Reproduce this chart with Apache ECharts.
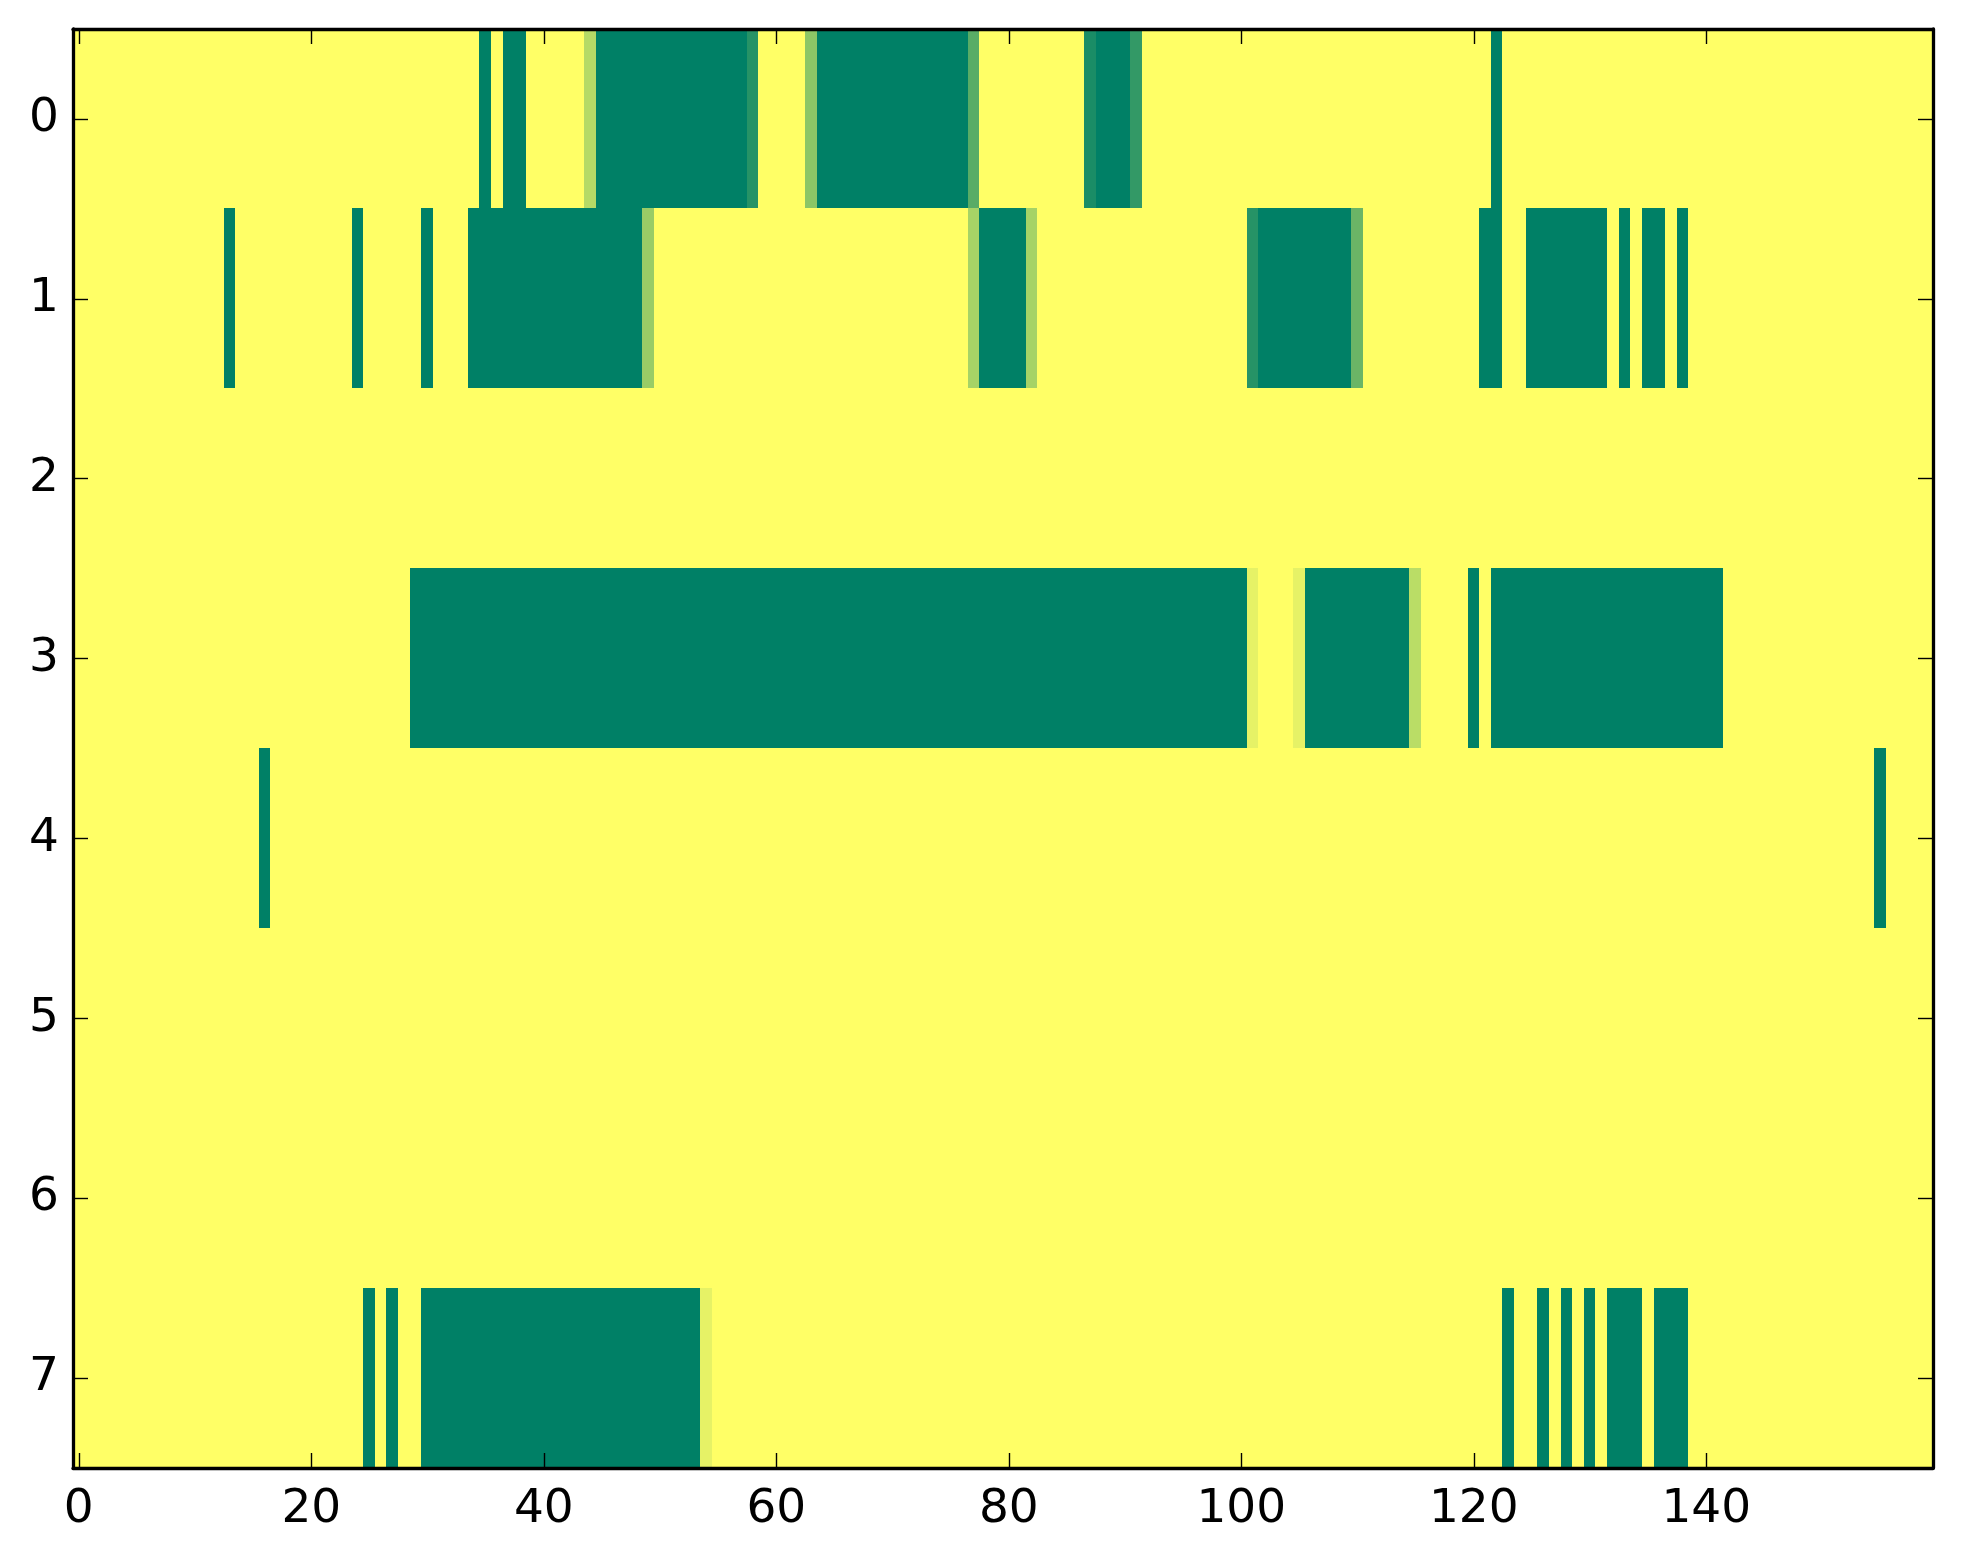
<!DOCTYPE html>
<html><head><meta charset="utf-8">
<script src="https://cdn.jsdelivr.net/npm/echarts@6/dist/echarts.min.js"></script>
<style>html,body{margin:0;padding:0;background:#fff}#c{width:1963px;height:1564px}</style>
</head><body><div id="c"></div>
<script>
const rowLabels = ['0','1','2','3','4','5','6','7'];
const columnLabels = [];
for (let i = 0; i < 160; i++) columnLabels.push(String(i));

const row0 = [
0,0,0,0,0,0,0,0,0,0,0,0,0,0,0,0,0,0,0,0,
0,0,0,0,0,0,0,0,0,0,0,0,0,0,0,1,0,1,1,0,
0,0,0,0,.29,1,1,1,1,1,1,1,1,1,1,1,1,1,.85,0,
0,0,0,.45,1,1,1,1,1,1,1,1,1,1,1,1,1,.65,0,0,
0,0,0,0,0,0,0,.9,1,1,1,.8,0,0,0,0,0,0,0,0,
0,0,0,0,0,0,0,0,0,0,0,0,0,0,0,0,0,0,0,0,
0,0,1,0,0,0,0,0,0,0,0,0,0,0,0,0,0,0,0,0,
0,0,0,0,0,0,0,0,0,0,0,0,0,0,0,0,0,0,0,0];
const row1 = [
0,0,0,0,0,0,0,0,0,0,0,0,0,1,0,0,0,0,0,0,
0,0,0,0,1,0,0,0,0,0,1,0,0,0,1,1,1,1,1,1,
1,1,1,1,1,1,1,1,1,.4,0,0,0,0,0,0,0,0,0,0,
0,0,0,0,0,0,0,0,0,0,0,0,0,0,0,0,0,.35,1,1,
1,1,.35,0,0,0,0,0,0,0,0,0,0,0,0,0,0,0,0,0,
0,.85,1,1,1,1,1,1,1,1,.58,0,0,0,0,0,0,0,0,0,
0,1,1,0,0,1,1,1,1,1,1,1,0,1,0,1,1,0,1,0,
0,0,0,0,0,0,0,0,0,0,0,0,0,0,0,0,0,0,0,0];
const row2 = [
0,0,0,0,0,0,0,0,0,0,0,0,0,0,0,0,0,0,0,0,
0,0,0,0,0,0,0,0,0,0,0,0,0,0,0,0,0,0,0,0,
0,0,0,0,0,0,0,0,0,0,0,0,0,0,0,0,0,0,0,0,
0,0,0,0,0,0,0,0,0,0,0,0,0,0,0,0,0,0,0,0,
0,0,0,0,0,0,0,0,0,0,0,0,0,0,0,0,0,0,0,0,
0,0,0,0,0,0,0,0,0,0,0,0,0,0,0,0,0,0,0,0,
0,0,0,0,0,0,0,0,0,0,0,0,0,0,0,0,0,0,0,0,
0,0,0,0,0,0,0,0,0,0,0,0,0,0,0,0,0,0,0,0];
const row3 = [
0,0,0,0,0,0,0,0,0,0,0,0,0,0,0,0,0,0,0,0,
0,0,0,0,0,0,0,0,0,1,1,1,1,1,1,1,1,1,1,1,
1,1,1,1,1,1,1,1,1,1,1,1,1,1,1,1,1,1,1,1,
1,1,1,1,1,1,1,1,1,1,1,1,1,1,1,1,1,1,1,1,
1,1,1,1,1,1,1,1,1,1,1,1,1,1,1,1,1,1,1,1,
1,.1,0,0,0,.1,1,1,1,1,1,1,1,1,1,.27,0,0,0,0,
1,0,1,1,1,1,1,1,1,1,1,1,1,1,1,1,1,1,1,1,
1,1,0,0,0,0,0,0,0,0,0,0,0,0,0,0,0,0,0,0];
const row4 = [
0,0,0,0,0,0,0,0,0,0,0,0,0,0,0,0,1,0,0,0,
0,0,0,0,0,0,0,0,0,0,0,0,0,0,0,0,0,0,0,0,
0,0,0,0,0,0,0,0,0,0,0,0,0,0,0,0,0,0,0,0,
0,0,0,0,0,0,0,0,0,0,0,0,0,0,0,0,0,0,0,0,
0,0,0,0,0,0,0,0,0,0,0,0,0,0,0,0,0,0,0,0,
0,0,0,0,0,0,0,0,0,0,0,0,0,0,0,0,0,0,0,0,
0,0,0,0,0,0,0,0,0,0,0,0,0,0,0,0,0,0,0,0,
0,0,0,0,0,0,0,0,0,0,0,0,0,0,0,1,0,0,0,0];
const row5 = [
0,0,0,0,0,0,0,0,0,0,0,0,0,0,0,0,0,0,0,0,
0,0,0,0,0,0,0,0,0,0,0,0,0,0,0,0,0,0,0,0,
0,0,0,0,0,0,0,0,0,0,0,0,0,0,0,0,0,0,0,0,
0,0,0,0,0,0,0,0,0,0,0,0,0,0,0,0,0,0,0,0,
0,0,0,0,0,0,0,0,0,0,0,0,0,0,0,0,0,0,0,0,
0,0,0,0,0,0,0,0,0,0,0,0,0,0,0,0,0,0,0,0,
0,0,0,0,0,0,0,0,0,0,0,0,0,0,0,0,0,0,0,0,
0,0,0,0,0,0,0,0,0,0,0,0,0,0,0,0,0,0,0,0];
const row6 = [
0,0,0,0,0,0,0,0,0,0,0,0,0,0,0,0,0,0,0,0,
0,0,0,0,0,0,0,0,0,0,0,0,0,0,0,0,0,0,0,0,
0,0,0,0,0,0,0,0,0,0,0,0,0,0,0,0,0,0,0,0,
0,0,0,0,0,0,0,0,0,0,0,0,0,0,0,0,0,0,0,0,
0,0,0,0,0,0,0,0,0,0,0,0,0,0,0,0,0,0,0,0,
0,0,0,0,0,0,0,0,0,0,0,0,0,0,0,0,0,0,0,0,
0,0,0,0,0,0,0,0,0,0,0,0,0,0,0,0,0,0,0,0,
0,0,0,0,0,0,0,0,0,0,0,0,0,0,0,0,0,0,0,0];
const row7 = [
0,0,0,0,0,0,0,0,0,0,0,0,0,0,0,0,0,0,0,0,
0,0,0,0,0,1,0,1,0,0,1,1,1,1,1,1,1,1,1,1,
1,1,1,1,1,1,1,1,1,1,1,1,1,1,.1,0,0,0,0,0,
0,0,0,0,0,0,0,0,0,0,0,0,0,0,0,0,0,0,0,0,
0,0,0,0,0,0,0,0,0,0,0,0,0,0,0,0,0,0,0,0,
0,0,0,0,0,0,0,0,0,0,0,0,0,0,0,0,0,0,0,0,
0,0,0,1,0,0,1,0,1,0,1,0,1,1,1,0,1,1,1,0,
0,0,0,0,0,0,0,0,0,0,0,0,0,0,0,0,0,0,0,0];

const rows = [row0,row1,row2,row3,row4,row5,row6,row7];
const cells = [];
rows.forEach((r, ri) => r.forEach((v, ci) => cells.push([ci, ri, v])));

const every20 = (i) => i % 20 === 0;
const font = 'DejaVu Sans';
const axisLine = {show: true, onZero: false, lineStyle: {color: '#000', width: 3.3}};
const tick = {show: true, inside: true, length: 15, alignWithLabel: true, lineStyle: {color: '#000', width: 1.4}};

const chart = echarts.init(document.getElementById('c'));
chart.setOption({
  animation: false,
  backgroundColor: '#fff',
  grid: {left: 73, top: 29, width: 1860, height: 1439, containLabel: false},
  xAxis: [
    {type: 'category', data: columnLabels, position: 'bottom', axisLine, z: 10,
     axisTick: Object.assign({interval: every20}, tick),
     axisLabel: {interval: every20, fontSize: 47, fontFamily: font, color: '#000', margin: 18},
     splitLine: {show: false}},
    {type: 'category', data: columnLabels, position: 'top', axisLine, z: 10,
     axisTick: Object.assign({interval: every20}, tick),
     axisLabel: {show: false}, splitLine: {show: false}}
  ],
  yAxis: [
    {type: 'category', data: rowLabels, inverse: true, position: 'left', axisLine, z: 10,
     axisTick: Object.assign({interval: 0}, tick),
     axisLabel: {fontSize: 47, fontFamily: font, color: '#000', margin: 14},
     splitLine: {show: false}},
    {type: 'category', data: rowLabels, inverse: true, position: 'right', axisLine, z: 10,
     axisTick: Object.assign({interval: 0}, tick),
     axisLabel: {show: false}, splitLine: {show: false}}
  ],
  visualMap: {show: false, min: 0, max: 1, dimension: 2, seriesIndex: 0,
              inRange: {color: ['#ffff66', '#008066']}},
  series: [{
    type: 'custom', xAxisIndex: 0, yAxisIndex: 0, data: cells, z: 1,
    encode: {x: 0, y: 1},
    silent: true,
    renderItem: function (params, api) {
      const c = api.coord([api.value(0), api.value(1)]);
      const s = api.size([1, 1]);
      const x0 = Math.floor(c[0] - s[0] / 2), x1 = Math.ceil(c[0] + s[0] / 2);
      const y0 = Math.floor(c[1] - s[1] / 2), y1 = Math.ceil(c[1] + s[1] / 2);
      return {type: 'rect', shape: {x: x0, y: y0, width: x1 - x0, height: y1 - y0},
              style: {fill: api.visual('color'), stroke: null}};
    }
  }]
});
</script></body></html>
